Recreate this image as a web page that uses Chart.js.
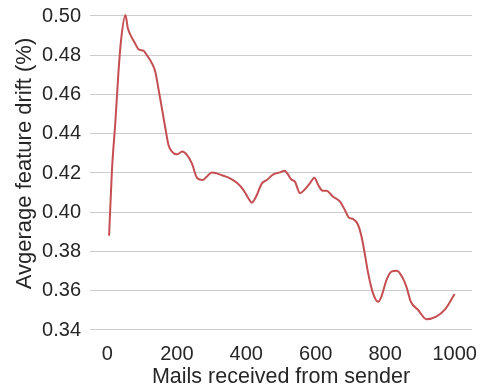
<!DOCTYPE html>
<html>
<head>
<meta charset="utf-8">
<script src="https://cdn.jsdelivr.net/npm/chart.js@4/dist/chart.umd.min.js"></script>
<style>
  html, body { margin: 0; padding: 0; background: #ffffff; }
  #wrap { width: 480px; height: 390px; }
</style>
</head>
<body>
<div id="wrap"><canvas id="chart" width="480" height="390"></canvas></div>
<script>
// Number of mails received from a sender
const mailsReceived = [5, 13, 23, 32, 40, 52, 59, 69, 80, 90, 104, 114, 128, 138, 147, 157, 167, 176, 186, 200,
  216, 229, 243, 259, 274, 286, 301, 315, 334, 353, 373, 392, 406, 416, 428, 445, 459, 478, 497, 511,
  518, 529, 540, 555, 569, 583, 596, 607, 620, 631, 650, 670, 684, 696, 707, 722, 732, 741, 751, 765,
  780, 789, 804, 818, 834, 851, 861, 874, 895, 919, 947, 971, 1000];

// Average feature drift at each point
const featureDrift = [0.388, 0.4207, 0.446, 0.4716, 0.4886, 0.5005, 0.4937, 0.4895, 0.486, 0.483, 0.4823, 0.480,
  0.476, 0.4716, 0.463, 0.453, 0.4428, 0.4343, 0.4309, 0.4295, 0.4309, 0.4292, 0.425, 0.4173, 0.4164,
  0.4181, 0.4203, 0.4198, 0.4186, 0.4173, 0.415, 0.4113, 0.4071, 0.4049, 0.4079, 0.4147, 0.4164, 0.4193,
  0.4203, 0.4212, 0.4198, 0.4168, 0.4156, 0.4097, 0.4117, 0.4147, 0.4176, 0.4139, 0.411, 0.411, 0.4079,
  0.4054, 0.4011, 0.3972, 0.3966, 0.3935, 0.3875, 0.3791, 0.3689, 0.3587, 0.3544, 0.357, 0.3655, 0.3697,
  0.3702, 0.3663, 0.3621, 0.3544, 0.3502, 0.3455, 0.3468, 0.3502, 0.3583];

const xTickValues = [0, 200, 400, 600, 800, 1000];
const yTickValues = [0.34, 0.36, 0.38, 0.40, 0.42, 0.44, 0.46, 0.48, 0.50];

const xTitle = 'Mails received from sender';
const yTitle = 'Avgerage feature drift (%)';

const textColor = '#262626';
const fontFamily = "'Liberation Sans', Arial, Helvetica, sans-serif";
Chart.defaults.font.family = fontFamily;

const points = mailsReceived.map((x, i) => ({ x: x, y: featureDrift[i] }));

// Drop the label overhang padding so the plot area spans the full box
function noPadding(scale) {
  scale.paddingTop = 0;
  scale.paddingBottom = 0;
  scale.paddingLeft = 0;
  scale.paddingRight = 0;
}

// Vertical y-axis title
const yTitlePlugin = {
  id: 'yTitle',
  afterDraw(chart) {
    const { ctx, scales } = chart;
    const y = scales.y;
    const cy = (y.getPixelForValue(0.50) + y.getPixelForValue(0.34)) / 2 - 9.5;
    ctx.save();
    ctx.translate(25, cy);
    ctx.rotate(-Math.PI / 2);
    ctx.font = '22px ' + fontFamily;
    ctx.fillStyle = textColor;
    ctx.textAlign = 'center';
    ctx.textBaseline = 'middle';
    ctx.fillText(yTitle, 0, 0);
    ctx.restore();
  }
};

new Chart(document.getElementById('chart'), {
  type: 'line',
  data: {
    datasets: [{
      data: points,
      borderColor: '#c44e52',
      borderWidth: 2,
      pointRadius: 0,
      cubicInterpolationMode: 'monotone',
      fill: false
    }]
  },
  plugins: [yTitlePlugin],
  options: {
    responsive: false,
    animation: false,
    devicePixelRatio: 1,
    layout: { padding: { top: 0, right: 8, left: 0, bottom: 0 } },
    plugins: { legend: { display: false }, tooltip: { enabled: false } },
    scales: {
      x: {
        type: 'linear',
        min: -50,
        max: 1050,
        afterBuildTicks: (scale) => { scale.ticks = xTickValues.map(v => ({ value: v })); },
        afterFit: (scale) => { scale.height = 54; noPadding(scale); },
        grid: { display: false, drawTicks: false },
        border: { display: false },
        ticks: { font: { size: 20 }, color: textColor, padding: 6, maxRotation: 0, callback: (v) => String(v) },
        title: { display: true, text: xTitle, font: { size: 21.5 }, color: textColor, padding: 0 }
      },
      y: {
        min: 0.33694,
        max: 0.50815,
        afterBuildTicks: (scale) => { scale.ticks = yTickValues.map(v => ({ value: v })); },
        afterFit: (scale) => { scale.width = 90; noPadding(scale); },
        grid: { color: '#cccccc', lineWidth: 1, drawTicks: false },
        border: { display: false },
        ticks: { font: { size: 20 }, color: textColor, padding: 9, callback: (v) => Number(v).toFixed(2) },
        title: { display: false }
      }
    }
  }
});
</script>
</body>
</html>
